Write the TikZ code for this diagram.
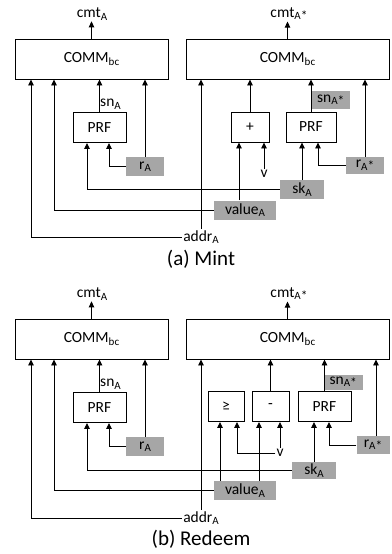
\documentclass[tikz,border=0pt]{standalone}
\usepackage{fontspec}
\setmainfont{Carlito}
\usetikzlibrary{arrows.meta, positioning}
\definecolor{keyGrey}{HTML}{A6A6A6}
\newcommand{\lowidx}[1]{\raisebox{-2.5pt}{\fontsize{11}{12}\selectfont #1}}
\newcommand{\lowstar}{\raisebox{-3pt}{\fontsize{13.5}{14}\selectfont *}}
\tikzset{
  conn/.style    = {-{Triangle[length=6pt,width=5.5pt]}, line width=0.9pt, black},
  lbl/.style     = {font=\fontsize{15.5}{17}\selectfont, inner sep=1pt},
  opbox/.style   = {lbl, draw, line width=0.9pt, minimum height=30pt, inner sep=0pt},
  gbox/.style    = {lbl, fill=keyGrey, minimum height=19pt, inner sep=2pt},
  captxt/.style  = {font=\fontsize{21}{24}\selectfont},
}

\begin{document}
\begin{tikzpicture}[x=1pt,y=-1pt]
  \useasboundingbox (0,0) rectangle (391,554);
  % (a) mint
  \node[opbox, minimum width=153pt, minimum height=40pt] (commLa) at (91.5,59) {COMM\lowidx{bc}};
  \node[opbox, minimum width=203pt, minimum height=40pt] (commRa) at (287.5,59) {COMM\lowidx{bc}};
  \node[lbl] (cmtLa) at (92,14) {cmt\lowidx{A}};
  \node[lbl] (cmtRa) at (289,14) {cmt\lowidx{A}\lowstar};
  \node[opbox, minimum width=53pt] (prfLa) at (99.5,127.5) {PRF};
  \node[opbox, minimum width=38pt] (plusa) at (250,127) {+};
  \node[opbox, minimum width=50pt] (prfRa) at (311,127) {PRF};
  \node[lbl, anchor=west] (snLa) at (99,104) {sn\lowidx{A}};
  \node[gbox, anchor=west, minimum width=39pt, minimum height=18pt] (snRa) at (311,100) {sn\lowidx{A}\lowstar};
  \node[gbox, minimum width=38pt] (rLa) at (145,166.5) {r\lowidx{A}};
  \node[gbox, minimum width=38pt, minimum height=17pt] (rRa) at (365,165.5) {r\lowidx{A}\lowstar};
  \node[lbl] (va) at (264,174) {v};
  \node[gbox, minimum width=44pt] (ska) at (302,189.5) {sk\lowidx{A}};
  \node[gbox, minimum width=62pt] (valuea) at (245,210) {value\lowidx{A}};
  \node[lbl] (addra) at (201,237) {addr\lowidx{A}};
  \draw[conn] (commLa.north) -- (commLa.north |- cmtLa.south);
  \draw[conn] (commRa.north) -- (commRa.north |- cmtRa.south);
  \draw[conn] (prfLa.north) -- (prfLa.north |- commLa.south);
  \draw[conn] (rLa.north) -- (rLa.north |- commLa.south);
  \draw[conn] (rLa.west) -| ([xshift=9.5pt]prfLa.south);
  \draw[conn] (ska.west) -| ([xshift=-12.5pt]prfLa.south);
  \draw[conn] (valuea.west) -| ([xshift=-37.5pt]commLa.south);
  \draw[conn] (addra.west) -| ([xshift=-60.5pt]commLa.south);
  \draw[conn] (addra.north) -- (addra.north |- commRa.south);
  \draw[conn] (plusa.north) -- (plusa.north |- commRa.south);
  \draw[conn] ([xshift=-6pt]valuea.north) -- ([xshift=-11pt]plusa.south);
  \draw[conn] (va.north) -- ([xshift=14pt]plusa.south);
  \draw[conn] (prfRa.north) -- (prfRa.north |- commRa.south);
  \draw[conn] (ska.north) -- ([xshift=-9pt]prfRa.south);
  \draw[conn] (rRa.west) -| ([xshift=7pt]prfRa.south);
  \draw[conn] (rRa.north) -- (rRa.north |- commRa.south);
  \node[captxt] (capa) at (201,259) {(a) Mint};

  % (b) redeem
  \begin{scope}[yshift=-280pt]
    \node[opbox, minimum width=153pt, minimum height=40pt] (commLb) at (91.5,59) {COMM\lowidx{bc}};
    \node[opbox, minimum width=203pt, minimum height=40pt] (commRb) at (287.5,59) {COMM\lowidx{bc}};
    \node[lbl] (cmtLb) at (92,14) {cmt\lowidx{A}};
    \node[lbl] (cmtRb) at (289,14) {cmt\lowidx{A}\lowstar};
    \node[opbox, minimum width=53pt] (prfLb) at (99.5,127.5) {PRF};
    \node[opbox, minimum width=36pt] (geb) at (226,126.5) {≥};
    \node[opbox, minimum width=37pt] (minusb) at (270.5,126.5) {-};
    \node[opbox, minimum width=53pt] (prfRb) at (324.5,126.5) {PRF};
    \node[lbl, anchor=west] (snLb) at (99,104) {sn\lowidx{A}};
    \node[gbox, anchor=west, minimum width=39pt, minimum height=15pt] (snRb) at (323.5,102) {sn\lowidx{A}\lowstar};
    \node[gbox, minimum width=38pt] (rLb) at (145,166.5) {r\lowidx{A}};
    \node[gbox, minimum width=33pt, minimum height=18pt] (rRb) at (373,165) {r\lowidx{A}\lowstar};
    \node[lbl] (vb) at (280,173) {v};
    \node[gbox, minimum width=44pt, minimum height=17pt] (skb) at (314,190.5) {sk\lowidx{A}};
    \node[gbox, minimum width=62pt] (valueb) at (245,210.5) {value\lowidx{A}};
    \node[lbl] (addrb) at (201,238) {addr\lowidx{A}};
    \draw[conn] (commLb.north) -- (commLb.north |- cmtLb.south);
    \draw[conn] (commRb.north) -- (commRb.north |- cmtRb.south);
    \draw[conn] (prfLb.north) -- (prfLb.north |- commLb.south);
    \draw[conn] (rLb.north) -- (rLb.north |- commLb.south);
    \draw[conn] (rLb.west) -| ([xshift=9.5pt]prfLb.south);
    \draw[conn] (skb.west) -| ([xshift=-12.5pt]prfLb.south);
    \draw[conn] (valueb.west) -| ([xshift=-37.5pt]commLb.south);
    \draw[conn] (addrb.west) -| ([xshift=-60.5pt]commLb.south);
    \draw[conn] (addrb.north) -- (addrb.north |- commRb.south);
    \draw[conn] ([xshift=-25pt]valueb.north) -- ([xshift=-6pt]geb.south);
    \draw[conn] (vb.west) -| ([xshift=11pt]geb.south);
    \draw[conn] ([xshift=14pt]valueb.north) -- ([xshift=-11.5pt]minusb.south);
    \draw[conn] (vb.north) -- ([xshift=9.5pt]minusb.south);
    \draw[conn] (minusb.north) -- (minusb.north |- commRb.south);
    \draw[conn] (prfRb.north) -- (prfRb.north |- commRb.south);
    \draw[conn] (skb.north) -- ([xshift=-10.5pt]prfRb.south);
    \draw[conn] (rRb.west) -| ([xshift=4.5pt]prfRb.south);
    \draw[conn] ([xshift=3pt]rRb.north) -- ([xshift=3pt]rRb.north |- commRb.south);
    \node[captxt] (capb) at (201,259) {(b) Redeem};
  \end{scope}
\end{tikzpicture}
\end{document}
